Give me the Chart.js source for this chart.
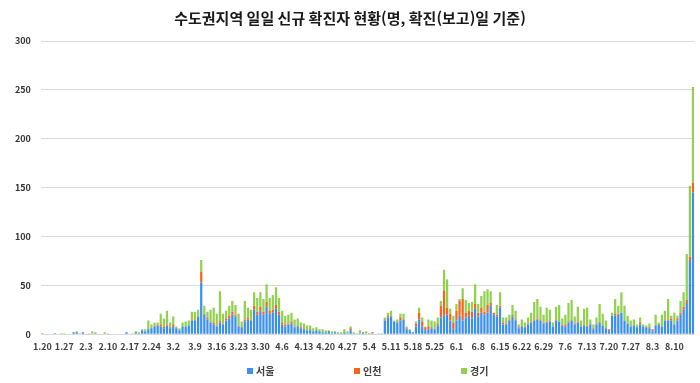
<!DOCTYPE html>
<html lang="ko">
<head>
<meta charset="utf-8">
<script src="https://cdn.jsdelivr.net/npm/chart.js@4.4.0/dist/chart.umd.min.js"></script>
<style>
  html, body { margin: 0; padding: 0; background: #fff; }
  #wrap { position: relative; width: 700px; height: 383px; }
  #legend { position: absolute; left: 247px; top: 363px; display: flex;
            font: bold 10px "Noto Sans CJK KR", sans-serif; color: #404040; }
  #legend .item { width: 107px; display: flex; align-items: center; }
  #legend .box { width: 6px; height: 6px; margin-right: 3px; }
</style>
</head>
<body>
<div id="wrap"><canvas id="chart"></canvas><div id="legend"></div></div>
<script>
const fontFamily = '"Noto Sans CJK KR", "Noto Sans", sans-serif';

// daily new cases from 1.20 to 8.16
const seoul = [
  0,0,0,0,1,0,0,0,0,0, 2,2,0,2,0,0,0,1,0,0, 0,0,0,0,0,0,0,2,0,0,
  2,1,4,3,5,6,8,9,8,6, 9,6,8,6,4,8,8,9,14,14, 18,53,20,15,12,10,8,12,10,14,
  16,20,18,8,7,13,15,14,25,20, 24,20,28,21,22,26,20,10,8,10, 11,7,8,6,5,4,4,3,4,3,
  2,2,3,1,2,1,1,2,1,4, 1,0,1,2,0,0,1,0,0,0, 14,17,18,13,12,14,15,5,4,2,
  8,15,8,4,5,6,5,9,17,19, 20,14,5,14,19,14,17,19,16,26, 18,22,20,22,29,20,18,27,10,10,
  14,18,14,6,8,7,10,12,14,15, 14,11,12,13,8,14,13,9,8,12, 14,10,12,8,9,8,10,5,10,12,
  9,6,3,19,19,20,22,14,11,8, 9,7,10,8,7,6,3,9,10,8, 14,14,14,10,14,20,25,32,75,145
];
const incheon = [
  1,0,0,0,0,0,0,0,0,0, 0,0,0,0,0,0,0,0,0,0, 0,0,0,0,0,0,0,0,0,0,
  0,0,0,0,0,0,1,1,2,2, 1,1,2,0,0,0,0,0,1,1, 0,11,1,2,1,2,1,2,1,2,
  3,3,2,1,1,2,2,1,4,3, 4,3,5,3,3,4,3,2,2,1, 2,1,1,1,1,0,1,0,0,0,
  0,0,0,0,0,0,0,0,0,2, 0,0,0,0,0,1,1,0,0,0, 1,2,1,0,1,3,0,1,0,0,
  3,7,5,3,3,1,0,2,12,26, 7,7,7,10,15,22,5,5,7,5, 4,5,3,8,3,2,2,2,2,1,
  1,2,1,1,1,0,1,1,1,1, 1,1,1,1,0,1,0,1,2,1, 1,1,1,0,1,1,1,1,1,1,
  0,0,2,0,2,1,0,0,0,0, 0,0,2,0,0,1,2,0,1,0, 0,1,2,0,2,2,3,3,4,10
];
const gyeonggi = [
  0,0,0,0,0,0,1,1,0,0, 0,1,1,0,0,1,3,1,0,0, 2,1,0,0,0,0,0,0,0,1,
  1,1,1,2,9,4,3,2,11,8, 14,5,8,2,2,4,5,5,8,8, 7,12,8,6,12,15,12,30,10,8,
  10,11,10,12,5,19,10,10,14,14, 15,13,18,13,15,18,14,12,9,9, 9,7,7,5,5,5,4,3,3,2,
  3,2,1,2,1,1,1,3,2,2, 1,1,3,0,3,0,0,0,1,1, 2,3,5,1,2,4,6,2,1,0,
  2,5,4,1,7,7,8,6,5,21, 29,5,7,7,2,11,13,8,10,20, 9,12,21,16,12,0,10,14,5,6,
  5,10,9,3,6,5,6,9,18,20, 13,8,14,11,4,13,17,6,10,19, 20,7,15,6,16,18,4,4,6,18,
  12,8,0,3,15,8,21,15,8,6, 6,3,5,2,2,4,0,11,1,12, 10,21,3,12,3,12,15,47,73,98
];

// one category per day, "m.d"
const days = [];
const start = new Date(2020, 0, 20);
for (let i = 0; i < seoul.length; i++) {
  const d = new Date(start.getFullYear(), start.getMonth(), start.getDate() + i);
  days.push((d.getMonth() + 1) + "." + d.getDate());
}

const seriesNames = ["서울", "인천", "경기"];
const seriesColors = ["#3b8fee", "#f4661b", "#92d050"];

const htmlLegend = {
  id: "htmlLegend",
  afterUpdate(chart) {
    const box = document.getElementById("legend");
    box.innerHTML = "";
    chart.data.datasets.forEach(function (ds) {
      const item = document.createElement("div");
      item.className = "item";
      const sw = document.createElement("span");
      sw.className = "box";
      sw.style.background = ds.backgroundColor;
      const txt = document.createElement("span");
      txt.textContent = ds.label;
      item.appendChild(sw);
      item.appendChild(txt);
      box.appendChild(item);
    });
  }
};

const ctx = document.getElementById("chart");
new Chart(ctx, {
  type: "bar",
  data: {
    labels: days,
    datasets: [seoul, incheon, gyeonggi].map(function (values, i) {
      return {
        label: seriesNames[i],
        data: values,
        backgroundColor: seriesColors[i],
        categoryPercentage: 0.8,
        barPercentage: 0.9,
      };
    }),
  },
  options: {
    responsive: true,
    maintainAspectRatio: false,
    animation: false,
    layout: { padding: { left: 5, right: 5, top: 0, bottom: 24 } },
    plugins: {
      legend: { display: false },
      tooltip: { enabled: false },
      title: {
        display: true,
        text: "수도권지역 일일 신규 확진자 현황(명, 확진(보고)일 기준)",
        color: "#1a1a1a",
        font: { family: fontFamily, size: 15, weight: "bold" },
        padding: { top: 9, bottom: 14 },
      },
    },
    scales: {
      x: {
        stacked: true,
        grid: { display: false, drawTicks: false },
        border: { display: false },
        ticks: {
          autoSkip: false,
          maxRotation: 0,
          padding: 7,
          color: "#404040",
          font: { family: fontFamily, size: 9, weight: "bold" },
          callback: function (v, i) {
            return i % 7 === 0 ? this.getLabelForValue(v) : "";
          },
        },
      },
      y: {
        stacked: true,
        min: 0,
        max: 300,
        grid: { color: "#d9d9d9", drawTicks: false },
        border: { display: false },
        ticks: {
          stepSize: 50,
          padding: 10,
          color: "#333333",
          font: { family: fontFamily, size: 9, weight: "bold" },
        },
      },
    },
  },
  plugins: [htmlLegend],
});
</script>
</body>
</html>
